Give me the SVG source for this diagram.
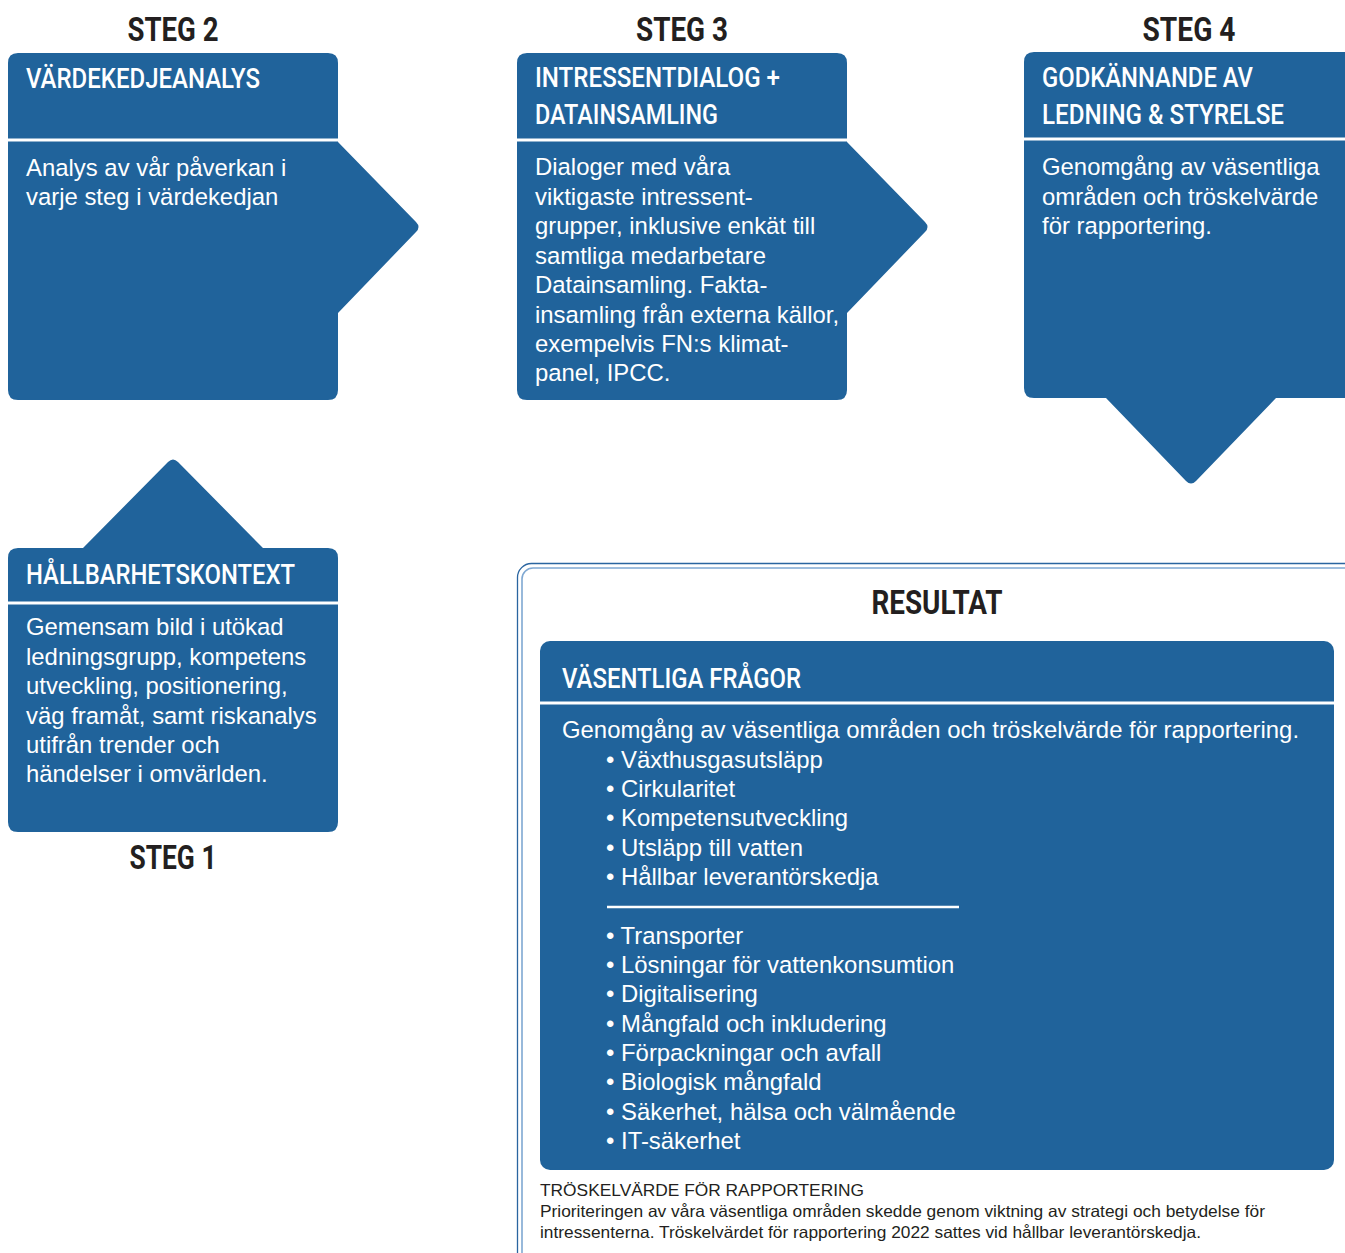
<svg xmlns="http://www.w3.org/2000/svg" width="1345" height="1253" viewBox="0 0 1345 1253">
<style>
.box{fill:#20639b}
.sep{stroke:#ffffff;stroke-width:3}
.step{font-family:Roboto,"Liberation Sans",sans-serif;font-weight:700;font-size:33px;fill:#231f20;text-anchor:middle}
.hd{font-family:Roboto,"Liberation Sans",sans-serif;font-weight:500;font-size:27.5px;fill:#ffffff}
.bd{font-family:"Liberation Sans",Arial,sans-serif;font-size:23.9px;fill:#ffffff}
.sm{font-family:"Liberation Sans",Arial,sans-serif;font-size:16.5px;fill:#231f20}
</style>
<rect width="1345" height="1253" fill="#ffffff"/>

<g id="frame">
<rect x="517.5" y="563.5" width="850" height="710" rx="14" fill="none" stroke="#2a65a0" stroke-width="1.3"/>
<rect x="522" y="568" width="850" height="700" rx="11" fill="none" stroke="#7fa8d2" stroke-width="1.6"/>
</g>

<g id="steg2">
<path class="box" d="M18,53 H328 Q338,53 338,63 V142 L416,222 Q421,227 416,232 L338,313 V390 Q338,400 328,400 H18 Q8,400 8,390 V63 Q8,53 18,53 Z"/>
<line class="sep" x1="8" y1="140" x2="338" y2="140"/>
<text class="step" x="173" y="41" textLength="91" lengthAdjust="spacingAndGlyphs">STEG 2</text>
<text class="hd" x="26" y="88" textLength="234" lengthAdjust="spacingAndGlyphs">VÄRDEKEDJEANALYS</text>
<text class="bd" x="26" y="176">Analys av vår påverkan i</text>
<text class="bd" x="26" y="205">varje steg i värdekedjan</text>
</g>

<g id="steg3">
<path class="box" d="M527,53 H837 Q847,53 847,63 V142 L925,222 Q930,227 925,232 L847,313 V390 Q847,400 837,400 H527 Q517,400 517,390 V63 Q517,53 527,53 Z"/>
<line class="sep" x1="517" y1="140" x2="847" y2="140"/>
<text class="step" x="682" y="41" textLength="92" lengthAdjust="spacingAndGlyphs">STEG 3</text>
<text class="hd" x="535" y="87" textLength="245" lengthAdjust="spacingAndGlyphs">INTRESSENTDIALOG +</text>
<text class="hd" x="535" y="124" textLength="183" lengthAdjust="spacingAndGlyphs">DATAINSAMLING</text>
<text class="bd" x="535" y="175">Dialoger med våra</text>
<text class="bd" x="535" y="204.5">viktigaste intressent-</text>
<text class="bd" x="535" y="234">grupper, inklusive enkät till</text>
<text class="bd" x="535" y="263.5">samtliga medarbetare</text>
<text class="bd" x="535" y="293">Datainsamling. Fakta-</text>
<text class="bd" x="535" y="322.5">insamling från externa källor,</text>
<text class="bd" x="535" y="352">exempelvis FN:s klimat-</text>
<text class="bd" x="535" y="381">panel, IPCC.</text>
</g>

<g id="steg4">
<path class="box" d="M1034,52 H1360 V398 H1276 L1196,481 Q1191,486 1186,481 L1106,398 H1034 Q1024,398 1024,388 V62 Q1024,52 1034,52 Z"/>
<line class="sep" x1="1024" y1="139" x2="1345" y2="139"/>
<text class="step" x="1189" y="41" textLength="93" lengthAdjust="spacingAndGlyphs">STEG 4</text>
<text class="hd" x="1042" y="87" textLength="211" lengthAdjust="spacingAndGlyphs">GODKÄNNANDE AV</text>
<text class="hd" x="1042" y="124" textLength="242" lengthAdjust="spacingAndGlyphs">LEDNING &amp; STYRELSE</text>
<text class="bd" x="1042" y="175">Genomgång av väsentliga</text>
<text class="bd" x="1042" y="204.5">områden och tröskelvärde</text>
<text class="bd" x="1042" y="234">för rapportering.</text>
</g>

<g id="steg1">
<path class="box" d="M18,548 H83 L168,462 Q173,457 178,462 L263,548 H328 Q338,548 338,558 V822 Q338,832 328,832 H18 Q8,832 8,822 V558 Q8,548 18,548 Z"/>
<line class="sep" x1="8" y1="603" x2="338" y2="603"/>
<text class="hd" x="26" y="584" textLength="269" lengthAdjust="spacingAndGlyphs">HÅLLBARHETSKONTEXT</text>
<text class="bd" x="26" y="635">Gemensam bild i utökad</text>
<text class="bd" x="26" y="664.5">ledningsgrupp, kompetens</text>
<text class="bd" x="26" y="694">utveckling, positionering,</text>
<text class="bd" x="26" y="723.5">väg framåt, samt riskanalys</text>
<text class="bd" x="26" y="753">utifrån trender och</text>
<text class="bd" x="26" y="782">händelser i omvärlden.</text>
<text class="step" x="173" y="869" textLength="87" lengthAdjust="spacingAndGlyphs">STEG 1</text>
</g>

<g id="resultat">
<text class="step" x="937" y="614" textLength="131" lengthAdjust="spacingAndGlyphs">RESULTAT</text>
<rect class="box" x="540" y="641" width="794" height="529" rx="10"/>
<line class="sep" x1="540" y1="703" x2="1334" y2="703"/>
<text class="hd" x="562" y="688" textLength="239" lengthAdjust="spacingAndGlyphs">VÄSENTLIGA FRÅGOR</text>
<text class="bd" x="562" y="738">Genomgång av väsentliga områden och tröskelvärde för rapportering.</text>
<text class="bd" x="606" y="768">• Växthusgasutsläpp</text>
<text class="bd" x="606" y="797">• Cirkularitet</text>
<text class="bd" x="606" y="826">• Kompetensutveckling</text>
<text class="bd" x="606" y="856">• Utsläpp till vatten</text>
<text class="bd" x="606" y="885">• Hållbar leverantörskedja</text>
<line x1="607" y1="907" x2="959" y2="907" stroke="#ffffff" stroke-width="2.5"/>
<text class="bd" x="606" y="944">• Transporter</text>
<text class="bd" x="606" y="973">• Lösningar för vattenkonsumtion</text>
<text class="bd" x="606" y="1002">• Digitalisering</text>
<text class="bd" x="606" y="1032">• Mångfald och inkludering</text>
<text class="bd" x="606" y="1061">• Förpackningar och avfall</text>
<text class="bd" x="606" y="1090">• Biologisk mångfald</text>
<text class="bd" x="606" y="1120">• Säkerhet, hälsa och välmående</text>
<text class="bd" x="606" y="1149">• IT-säkerhet</text>
<text class="sm" x="540" y="1196" textLength="324" lengthAdjust="spacingAndGlyphs">TRÖSKELVÄRDE FÖR RAPPORTERING</text>
<text class="sm" x="540" y="1217" textLength="725" lengthAdjust="spacingAndGlyphs">Prioriteringen av våra väsentliga områden skedde genom viktning av strategi och betydelse för</text>
<text class="sm" x="540" y="1238" textLength="661" lengthAdjust="spacingAndGlyphs">intressenterna. Tröskelvärdet för rapportering 2022 sattes vid hållbar leverantörskedja.</text>
</g>
</svg>
